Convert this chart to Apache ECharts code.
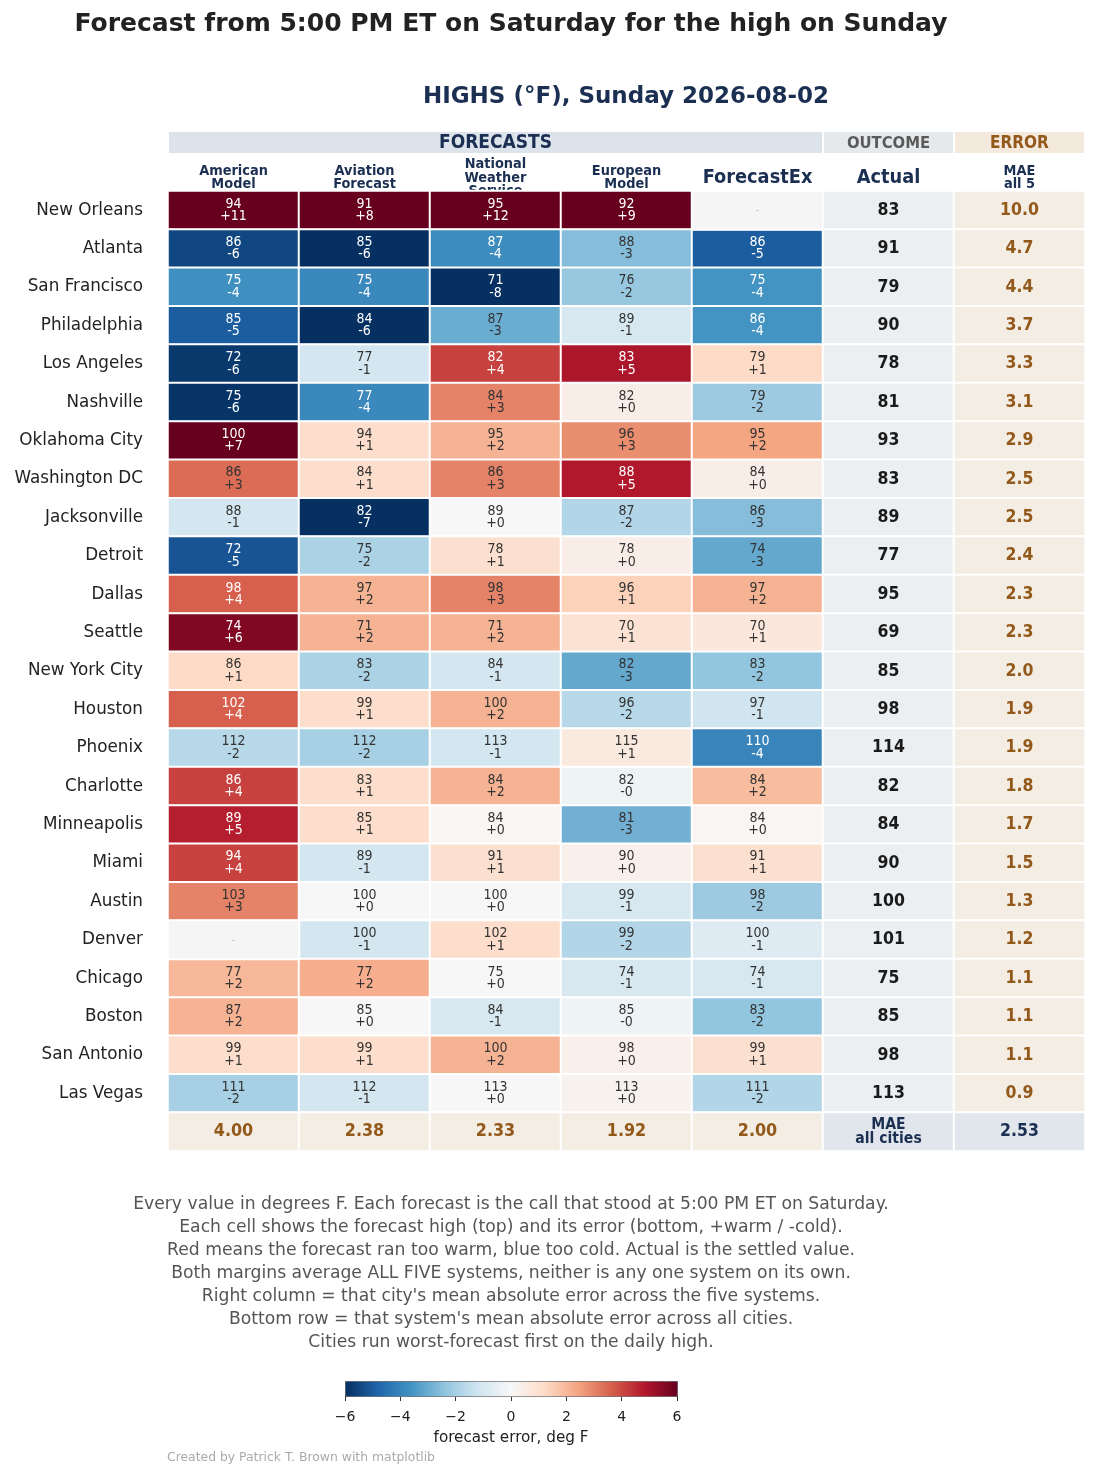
<!DOCTYPE html>
<html><head><meta charset="utf-8">
<script src="https://cdn.jsdelivr.net/npm/echarts@6/dist/echarts.min.js"></script>
<style>html,body{margin:0;padding:0;background:#fff}#c{width:1100px;height:1479px}</style>
</head><body><div id="c"></div>
<script>
// ---------------- DATA ----------------
const cities = ['New Orleans','Atlanta','San Francisco','Philadelphia','Los Angeles','Nashville','Oklahoma City','Washington DC','Jacksonville','Detroit','Dallas','Seattle','New York City','Houston','Phoenix','Charlotte','Minneapolis','Miami','Austin','Denver','Chicago','Boston','San Antonio','Las Vegas'];
const colHeaders = ['American\nModel','Aviation\nForecast','National\nWeather\nService','European\nModel','ForecastEx','Actual','MAE\nall 5'];
const bandLabels = ['FORECASTS','OUTCOME','ERROR'];
const bandSpans = [[0,4],[5,5],[6,6]];

const americanHigh = [94,86,75,85,72,75,100,86,88,72,98,74,86,102,112,86,89,94,103,null,77,87,99,111];
const americanErr  = [11.2,-5.5,-3.7,-5.0,-5.8,-5.9,7.0,3.4,-1.1,-5.2,3.6,5.6,1.2,3.6,-1.7,4.1,4.7,4.1,3.0,null,2.0,2.1,1.1,-2.0];
const aviationHigh = [91,85,75,84,77,77,94,84,82,75,97,71,83,99,112,83,85,89,100,100,77,85,99,112];
const aviationErr  = [8.2,-6.3,-3.9,-6.1,-1.1,-3.9,1.1,1.1,-7.0,-1.9,2.1,2.1,-1.9,1.1,-2.0,1.1,1.1,-1.1,0.0,-1.1,2.2,0.0,1.1,-1.1];
const nwsHigh      = [95,87,71,87,82,84,95,86,89,78,98,71,84,100,113,84,84,91,100,102,75,84,100,113];
const nwsErr       = [12.2,-3.8,-8.0,-3.0,4.1,3.0,2.1,3.0,0.0,1.0,3.0,2.1,-1.1,2.1,-1.1,2.1,0.1,1.0,0.0,1.1,0.0,-1.0,2.1,0.0];
const europeanHigh = [92,88,76,89,83,82,96,88,87,78,96,70,82,96,115,82,81,90,99,99,74,85,98,113];
const europeanErr  = [9.2,-2.6,-2.3,-1.0,4.9,0.4,2.8,4.8,-1.8,0.4,1.4,0.9,-3.1,-1.7,0.6,-0.3,-2.9,0.3,-1.0,-1.8,-1.0,-0.3,0.3,0.2];
const fexHigh      = [null,86,75,86,79,79,95,84,86,74,97,70,83,97,110,84,84,91,98,100,74,83,99,111];
const fexErr       = [null,-5.0,-3.6,-3.6,1.2,-2.2,2.4,0.4,-2.6,-3.1,2.1,0.7,-2.4,-1.2,-4.0,1.9,0.1,1.0,-2.2,-0.8,-1.0,-2.4,1.0,-1.8];
const actualHigh   = [83,91,79,90,78,81,93,83,89,77,95,69,85,98,114,82,84,90,100,101,75,85,98,113];
const maeCity      = [10.0,4.7,4.4,3.7,3.3,3.1,2.9,2.5,2.5,2.4,2.3,2.3,2.0,1.9,1.9,1.8,1.7,1.5,1.3,1.2,1.1,1.1,1.1,0.9];
const maeSystem    = [4.00,2.38,2.33,1.92,2.00];
const maeAll       = 2.53;
const maeAllLabel  = 'MAE\nall cities';

const errMin = -6, errMax = 6, errTickInterval = 2;

const titleText = 'Forecast from 5:00 PM ET on Saturday for the high on Sunday';
const subtitleText = 'HIGHS (°F), Sunday 2026-08-02';
const notes = [
  'Every value in degrees F. Each forecast is the call that stood at 5:00 PM ET on Saturday.',
  'Each cell shows the forecast high (top) and its error (bottom, +warm / -cold).',
  'Red means the forecast ran too warm, blue too cold. Actual is the settled value.',
  'Both margins average ALL FIVE systems, neither is any one system on its own.',
  'Right column = that city\'s mean absolute error across the five systems.',
  'Bottom row = that system\'s mean absolute error across all cities.',
  'Cities run worst-forecast first on the daily high.'
];
const colorbarName = 'forecast error, deg F';
const creditText = 'Created by Patrick T. Brown with matplotlib';

// ---------------- STYLES ----------------
const RDBU_R = ['#053061','#2166ac','#4393c3','#92c5de','#d1e5f0','#f7f7f7','#fddbc7','#f4a582','#d6604d','#b2182b','#67001f'];
const NAVY = '#1b2f52', BROWN = '#93591a';
const COND = '"DejaVu Sans Condensed", "DejaVu Sans", sans-serif';
const SANS = '"DejaVu Sans", sans-serif';
const bandStyles = [
  {fill:'#dde3ea', color:NAVY, size:19},
  {fill:'#e6e9ec', color:'#5a5a5a', size:16.5},
  {fill:'#f3e9dc', color:BROWN, size:17}
];

// ---------------- BUILD ----------------
const sysHigh = [americanHigh, aviationHigh, nwsHigh, europeanHigh, fexHigh];
const sysErr = [americanErr, aviationErr, nwsErr, europeanErr, fexErr];
const nRows = cities.length;
const fmtErr = e => (e < 0 ? '-' : '+') + Math.round(Math.abs(e));
const clamp = e => Math.max(errMin, Math.min(errMax, e));

const cellData = [], missingData = [];
sysHigh.forEach((arr, c) => arr.forEach((v, r) => {
  if (v == null) { missingData.push([c, r, 0]); return; }
  const e = sysErr[c][r];
  cellData.push({ value: [c, r, clamp(e), v, e], label: { color: Math.abs(e) >= 3.5 ? '#ffffff' : '#333333' } });
}));
const actualData = actualHigh.map((v, r) => [5, r, v]);
const maeData = maeCity.map((v, r) => [6, r, v]);
const maeSysData = maeSystem.map((v, c) => [c, nRows, v]);

const chart = echarts.init(document.getElementById('c'), null, {renderer: 'canvas'});
const cellBorder = { borderColor: '#ffffff', borderWidth: 2 };

const option = {
  backgroundColor: '#ffffff',
  animation: false,
  textStyle: { fontFamily: SANS },
  graphic: [
    { type: 'text', x: 511, y: 24, style: { text: titleText, align: 'center', verticalAlign: 'middle', fill: '#222', font: 'bold 25px ' + SANS } },
    { type: 'text', x: 626, y: 97, style: { text: subtitleText, align: 'center', verticalAlign: 'middle', fill: NAVY, font: 'bold 23px ' + SANS } },
    ...notes.map((t, i) => ({ type: 'text', x: 511, y: 1205 + i * 23, style: { text: t, align: 'center', verticalAlign: 'middle', fill: '#555', font: '17.2px ' + SANS } })),
    { type: 'text', x: 167, y: 1458, style: { text: creditText, align: 'left', verticalAlign: 'middle', fill: '#aaa', font: '12.4px ' + SANS } }
  ],
  grid: [
    { left: 168, right: 15, top: 191, height: 960 },
    { left: 345, width: 332, top: 1395, height: 1 }
  ],
  xAxis: [
    { type: 'category', gridIndex: 0, data: colHeaders, position: 'top',
      axisLine: { show: false }, axisTick: { show: false }, splitLine: { show: false },
      axisLabel: { interval: 0, margin: 13, verticalAlign: 'middle', color: NAVY,
        formatter: v => {
          const big = (v === 'ForecastEx' || v === 'Actual');
          return v.split('\n').map(l => '{' + (big ? 'b' : 's') + '|' + l + '}').join('\n');
        },
        rich: {
          s: { fontFamily: COND, fontWeight: 'bold', fontSize: 14.4, lineHeight: 13.5, color: NAVY },
          b: { fontFamily: COND, fontWeight: 'bold', fontSize: 19.8, lineHeight: 22, color: NAVY }
        } } },
    { type: 'value', gridIndex: 1, min: errMin, max: errMax, interval: errTickInterval, position: 'bottom',
      axisLine: { show: false }, splitLine: { show: false },
      axisTick: { show: true, length: 5, lineStyle: { color: '#333' } },
      axisLabel: { margin: 14, fontSize: 14, color: '#222', formatter: v => String(v).replace('-', '\u2212') },
      name: colorbarName, nameLocation: 'middle', nameGap: 35, nameTextStyle: { fontSize: 15.2, color: '#222' } }
  ],
  yAxis: [
    { type: 'category', gridIndex: 0, data: cities.concat(['']), inverse: true,
      axisLine: { show: false }, axisTick: { show: false }, splitLine: { show: false },
      axisLabel: { interval: 0, margin: 25, fontSize: 16.8, color: '#222', fontFamily: SANS } },
    { type: 'value', gridIndex: 1, show: false }
  ],
  visualMap: {
    type: 'continuous', seriesIndex: 0, dimension: 2, min: errMin, max: errMax,
    orient: 'horizontal', left: 345, top: 1381, itemWidth: 15, itemHeight: 332,
    padding: 0, calculable: false, hoverLink: false, showLabel: false, text: null,
    borderColor: '#555', borderWidth: 1,
    inRange: { color: RDBU_R }
  },
  series: [
    { type: 'heatmap', name: 'forecast', data: cellData, itemStyle: cellBorder, emphasis: { disabled: true },
      label: { show: true, formatter: p => p.value[3] + '\n' + fmtErr(p.value[4]),
        fontFamily: COND, fontSize: 14, lineHeight: 12.5 } },
    { type: 'heatmap', name: 'missing', data: missingData, itemStyle: Object.assign({ color: '#f5f5f5' }, cellBorder), emphasis: { disabled: true },
      label: { show: true, formatter: '-', color: '#c4c4c4', fontSize: 11 } },
    { type: 'heatmap', name: 'actual', data: actualData, itemStyle: Object.assign({ color: '#eceff2' }, cellBorder), emphasis: { disabled: true },
      label: { show: true, formatter: p => String(p.value[2]), color: '#1a1a1a', fontWeight: 'bold', fontSize: 17.5, fontFamily: COND } },
    { type: 'heatmap', name: 'maeCity', data: maeData, itemStyle: Object.assign({ color: '#f4ede4' }, cellBorder), emphasis: { disabled: true },
      label: { show: true, formatter: p => p.value[2].toFixed(1), color: BROWN, fontWeight: 'bold', fontSize: 17.5, fontFamily: COND } },
    { type: 'heatmap', name: 'maeSystem', data: maeSysData, itemStyle: Object.assign({ color: '#f4ede4' }, cellBorder), emphasis: { disabled: true },
      label: { show: true, formatter: p => p.value[2].toFixed(2), color: BROWN, fontWeight: 'bold', fontSize: 17.8, fontFamily: COND } },
    { type: 'heatmap', name: 'maeAllLabel', data: [[5, nRows, 0]], itemStyle: Object.assign({ color: '#e1e6ec' }, cellBorder), emphasis: { disabled: true },
      label: { show: true, formatter: maeAllLabel, color: NAVY, fontWeight: 'bold', fontSize: 15.6, lineHeight: 14.5, fontFamily: COND } },
    { type: 'heatmap', name: 'maeAll', data: [[6, nRows, maeAll]], itemStyle: Object.assign({ color: '#e1e6ec' }, cellBorder), emphasis: { disabled: true },
      label: { show: true, formatter: p => p.value[2].toFixed(2), color: NAVY, fontWeight: 'bold', fontSize: 17.5, fontFamily: COND } },
    { type: 'custom', name: 'band', clip: false, silent: true,
      data: bandSpans.map((s, i) => ({ value: [s[0], s[1]], name: bandLabels[i] })),
      encode: { x: 0 },
      renderItem: (params, api) => {
        const i = params.dataIndex, st = bandStyles[i];
        const p0 = api.coord([api.value(0), 0]), p1 = api.coord([api.value(1), 0]);
        const sz = api.size([1, 1]);
        const x0 = p0[0] - sz[0] / 2 + 1, x1 = p1[0] + sz[0] / 2 - 1;
        const yTop = p0[1] - sz[1] / 2 - 59, h = 21;
        return { type: 'group', children: [
          { type: 'rect', shape: { x: x0, y: yTop, width: x1 - x0, height: h }, style: { fill: st.fill } },
          { type: 'text', style: { text: bandLabels[i], x: (x0 + x1) / 2, y: yTop + h / 2 + 1, align: 'center', verticalAlign: 'middle',
            fill: st.color, font: 'bold ' + st.size + 'px ' + COND } }
        ] };
      } }
  ]
};
chart.setOption(option);
</script></body></html>
